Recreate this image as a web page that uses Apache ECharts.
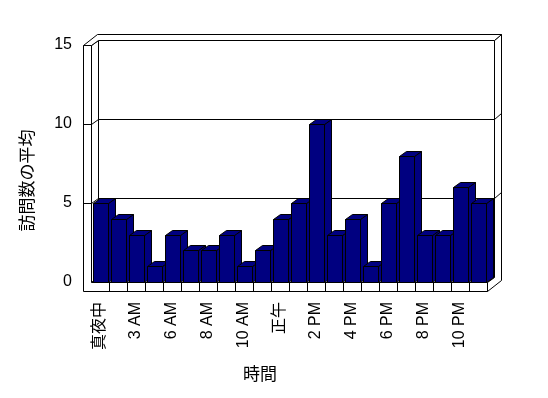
<!DOCTYPE html>
<html>
<head>
<meta charset="utf-8">
<title>訪問数の平均</title>
<script src="https://cdn.jsdelivr.net/npm/echarts@6/dist/echarts.min.js"></script>
<style>
html, body { margin: 0; padding: 0; background: #fff; }
#chart { width: 548px; height: 398px; }
</style>
</head>
<body>
<div id="chart"></div>
<script>
// 時間帯
var hours = ['真夜中', '1 AM', '3 AM', '5 AM', '6 AM', '7 AM', '8 AM', '9 AM', '10 AM', '11 AM',
    '正午', '1 PM', '2 PM', '3 PM', '4 PM', '5 PM', '6 PM', '7 PM', '8 PM', '9 PM', '10 PM', '11 PM']
// 訪問数の平均
var visits = [5, 4, 3, 1, 3, 2, 2, 3, 1, 2, 4, 5, 10, 3, 4, 1, 5, 8, 3, 3, 6, 5]
var yMax = 15
var yStep = 5

var FONT = '"Liberation Sans", Arial, "Noto Sans CJK JP", sans-serif'
var NAVY = '#000080'
// 奥行き (3D風)
var D1 = [7, -5]
var D2 = [14, -11]
var BAR_D = [7, -5]
var WALL = 8
var FLOOR = 9

function px (v) { return Math.round(v) + 0.5 }
function sh (p, d) { return [p[0] + d[0], p[1] + d[1]] }
var white = { fill: '#fff', stroke: '#000', lineWidth: 1 }
var navy = { fill: NAVY, stroke: '#000', lineWidth: 1 }
function poly (pts, style) {
    return { type: 'polygon', shape: { points: pts }, style: style }
}
function pline (pts) {
    return { type: 'polyline', shape: { points: pts }, style: { stroke: '#000', lineWidth: 1, fill: null } }
}

// 壁と床
function renderFrame (params, api) {
    var n = hours.length
    var bw = api.size([1, 0])[0]
    var xL = px(api.coord([0, 0])[0] - bw / 2)
    var xR = px(api.coord([n - 1, 0])[0] + bw / 2)
    var y0 = px(api.coord([0, 0])[1])
    var yT = px(api.coord([0, yMax])[1])
    var xO = xL - WALL
    var yF = y0 + FLOOR
    var kids = []
    // 奥の壁
    kids.push(poly([sh([xL, yT], D1), sh([xR, yT], D1), sh([xR, y0], D1), sh([xL, y0], D1)], white))
    // 左の壁の内側
    kids.push(poly([[xL, yT], sh([xL, yT], D1), sh([xL, y0], D1), [xL, y0]], white))
    // 床の上面
    kids.push(poly([[xL, y0], [xR, y0], sh([xR, y0], D1), sh([xL, y0], D1)], white))
    // 右側面
    kids.push(poly([[xR, y0], [xR, yF], sh([xR, yF], D2), sh([xR, yT], D2), sh([xR, yT], D1), sh([xR, y0], D1)], white))
    // 上面
    kids.push(poly([[xO, yT], [xL, yT], sh([xL, yT], D1), sh([xR, yT], D1), sh([xR, yT], D2), sh([xO, yT], D2)], white))
    // 正面 (左の壁 + 床)
    kids.push(poly([[xO, yT], [xL, yT], [xL, y0], [xR, y0], [xR, yF], [xO, yF]], white))
    // 目盛線
    for (var v = yStep; v < yMax; v += yStep) {
        var y = px(api.coord([0, v])[1])
        kids.push(pline([[xO, y], [xL, y], sh([xL, y], D1), sh([xR, y], D1), sh([xR, y], D2)]))
    }
    // 床の区切り
    for (var k = 1; k < n; k++) {
        var x = px(api.coord([k, 0])[0] - bw / 2)
        kids.push(pline([[x, y0], [x, yF]]))
    }
    return { type: 'group', children: kids }
}

// 3D風の棒
function renderBar (params, api) {
    var i = api.value(0)
    var v = api.value(1)
    var bw = api.size([1, 0])[0]
    var c = api.coord([i, v])
    var b = api.coord([i, 0])
    var x1 = px(c[0] - bw / 2 + bw * 0.1)
    var x2 = px(c[0] - bw / 2 + bw * 0.93)
    var yt = px(c[1])
    var yb = px(b[1])
    return {
        type: 'group',
        children: [
            poly([[x2, yt], sh([x2, yt], BAR_D), sh([x2, yb], BAR_D), [x2, yb]], navy),
            poly([[x1, yt], [x2, yt], sh([x2, yt], BAR_D), sh([x1, yt], BAR_D)], navy),
            poly([[x1, yt], [x2, yt], [x2, yb], [x1, yb]], navy)
        ]
    }
}

var chart = echarts.init(document.getElementById('chart'))
var option = {
    animation: false,
    backgroundColor: '#fff',
    textStyle: { fontFamily: FONT },
    grid: { left: 91, right: 61, top: 45, bottom: 116 },
    xAxis: {
        type: 'category',
        data: hours,
        name: '時間',
        nameLocation: 'middle',
        nameGap: 85,
        nameTextStyle: { fontSize: 17, color: '#000', fontFamily: FONT, padding: [0, 58, 0, 0] },
        axisLine: { show: false },
        axisTick: { show: false },
        splitLine: { show: false },
        axisLabel: { interval: 1, rotate: 90, margin: 20, fontSize: 16, color: '#000', fontFamily: FONT }
    },
    yAxis: {
        type: 'value',
        min: 0,
        max: yMax,
        interval: yStep,
        name: '訪問数の平均',
        nameLocation: 'middle',
        nameGap: 54,
        nameTextStyle: { fontSize: 17, color: '#000', fontFamily: FONT, padding: [0, 34, 0, 0] },
        axisLine: { show: false },
        axisTick: { show: false },
        splitLine: { show: false },
        axisLabel: { margin: 19, fontSize: 16, color: '#000', fontFamily: FONT }
    },
    series: [
        {
            type: 'custom',
            silent: true,
            z: 1,
            renderItem: renderFrame,
            encode: { x: 0, y: 1 },
            data: [[0, 0]]
        },
        {
            name: '訪問数の平均',
            type: 'custom',
            z: 2,
            renderItem: renderBar,
            encode: { x: 0, y: 1 },
            data: visits.map(function (v, i) { return [i, v] })
        }
    ]
}
chart.setOption(option)
</script>
</body>
</html>
